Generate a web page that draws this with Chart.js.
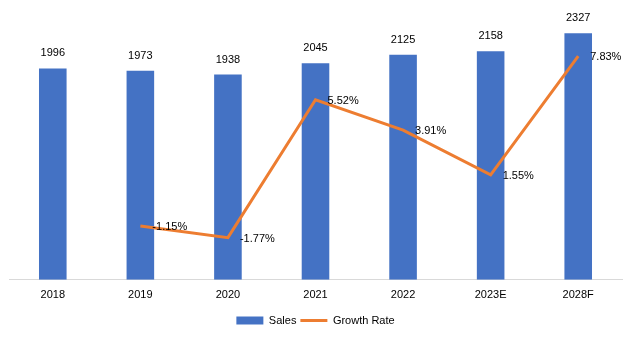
<!DOCTYPE html>
<html>
<head>
<meta charset="utf-8">
<script src="https://cdn.jsdelivr.net/npm/chart.js@4/dist/chart.umd.min.js"></script>
<style>
  html, body { margin: 0; padding: 0; background: #ffffff; }
  #wrap { width: 637px; height: 341px; position: relative; }
</style>
</head>
<body>
<div id="wrap"><canvas id="chart"></canvas></div>
<script>
const years = ['2018', '2019', '2020', '2021', '2022', '2023E', '2028F'];
const sales = [1996, 1973, 1938, 2045, 2125, 2158, 2327];
const growthRate = [null, -1.15, -1.77, 5.52, 3.91, 1.55, 7.83];

const FONT = 'Liberation Sans, Arial, sans-serif';

// Value labels: numbers above bars, percentages to the right of line points
const valueLabels = {
  id: 'valueLabels',
  afterDatasetsDraw(chart) {
    const ctx = chart.ctx;
    ctx.save();
    ctx.font = '11px ' + FONT;
    ctx.fillStyle = '#000000';

    const barMeta = chart.getDatasetMeta(0);
    ctx.textAlign = 'center';
    ctx.textBaseline = 'middle';
    barMeta.data.forEach((bar, i) => {
      ctx.fillText(String(sales[i]), bar.x, bar.y - 15);
    });

    const lineMeta = chart.getDatasetMeta(1);
    ctx.textAlign = 'left';
    lineMeta.data.forEach((pt, i) => {
      if (growthRate[i] === null) return;
      ctx.fillText(growthRate[i].toFixed(2) + '%', pt.x + 12, pt.y + 1);
    });
    ctx.restore();
  }
};

new Chart(document.getElementById('chart'), {
  data: {
    labels: years,
    datasets: [
      {
        type: 'bar',
        label: 'Sales',
        data: sales,
        backgroundColor: '#4472C4',
        borderWidth: 0,
        categoryPercentage: 1,
        barPercentage: 0.315,
        yAxisID: 'y',
        order: 2,
        pointStyle: 'rect'
      },
      {
        type: 'line',
        label: 'Growth Rate',
        data: growthRate,
        borderColor: '#ED7D31',
        backgroundColor: '#ED7D31',
        borderWidth: 3,
        pointRadius: 0,
        pointHoverRadius: 0,
        tension: 0,
        yAxisID: 'y2',
        order: 1,
        pointStyle: 'line'
      }
    ]
  },
  options: {
    responsive: true,
    maintainAspectRatio: false,
    animation: false,
    layout: { padding: { left: 9, right: 15, top: 15, bottom: 5 } },
    scales: {
      x: {
        offset: true,
        grid: { display: false, drawTicks: false },
        border: { display: true, color: '#D9D9D9', width: 1 },
        ticks: { color: '#000000', font: { family: FONT, size: 11 }, padding: 9 }
      },
      y: {
        display: false,
        min: 0,
        max: 2500
      },
      y2: {
        display: false,
        position: 'right',
        min: -4,
        max: 10
      }
    },
    plugins: {
      legend: {
        position: 'bottom',
        labels: {
          usePointStyle: true,
          pointStyleWidth: 27,
          boxHeight: 8,
          color: '#000000',
          font: { family: FONT, size: 11 },
          padding: 4,
          sort: (a, b) => a.datasetIndex - b.datasetIndex
        }
      },
      tooltip: { enabled: false }
    }
  },
  plugins: [valueLabels]
});
</script>
</body>
</html>
